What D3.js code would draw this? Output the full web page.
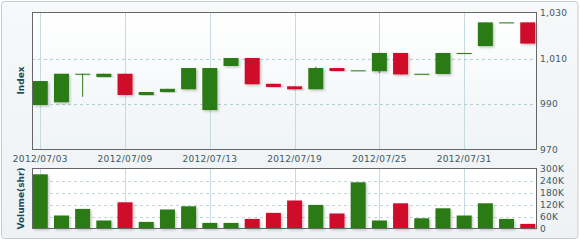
<!DOCTYPE html>
<html>
<head>
<meta charset="utf-8">
<script src="https://cdn.jsdelivr.net/npm/d3@7"></script>
<style>
  body { margin: 0; background: #fff; }
  svg { display: block; font-family: "DejaVu Sans", Verdana, sans-serif; }
</style>
</head>
<body>
<div id="chart"></div>
<script>
const dates = ["2012/07/03","2012/07/04","2012/07/05","2012/07/06","2012/07/09","2012/07/10","2012/07/11","2012/07/12","2012/07/13","2012/07/16","2012/07/17","2012/07/18","2012/07/19","2012/07/20","2012/07/23","2012/07/24","2012/07/25","2012/07/26","2012/07/27","2012/07/30","2012/07/31","2012/08/01","2012/08/02","2012/08/03"];
const open  = [989.7, 990.9, 1003.4, 1002.0, 1003.4, 994.1, 995.4, 996.6, 987.5, 1006.8, 1010.3, 999.0, 997.9, 996.6, 1005.9, 1004.9, 1004.5, 1012.5, 1003.4, 1003.3, 1012.5, 1015.5, 1025.9, 1025.9];
const close = [1000.2, 1003.4, 1003.4, 1003.4, 994.1, 995.4, 996.8, 1005.9, 1005.9, 1010.3, 998.8, 997.6, 996.6, 1005.9, 1004.6, 1004.9, 1012.5, 1003.1, 1003.4, 1012.5, 1012.5, 1025.9, 1025.9, 1016.6];
const high  = [1000.2, 1003.4, 1003.4, 1003.4, 1003.4, 995.4, 996.8, 1005.9, 1005.9, 1010.3, 1010.3, 999.0, 997.9, 1006.5, 1005.9, 1004.9, 1012.5, 1012.5, 1003.4, 1012.5, 1012.5, 1025.9, 1025.9, 1025.9];
const low   = [989.7, 990.9, 993.3, 1002.0, 994.1, 994.1, 995.4, 996.6, 987.5, 1006.8, 998.8, 997.6, 996.6, 996.6, 1004.6, 1004.9, 1003.7, 1003.1, 1003.4, 1003.3, 1012.5, 1015.5, 1025.9, 1016.6];
const volume = [271, 65, 98, 40, 131, 33, 95, 111, 28, 28, 48, 78, 140, 118, 75, 231, 40, 126, 51, 101, 65, 126, 48, 23];
const dateTicks = ["2012/07/03","2012/07/09","2012/07/13","2012/07/19","2012/07/25","2012/07/31"];
const priceTicks = [970, 990, 1010, 1030];
const volTicks = [0, 60, 120, 180, 240, 300];

const W = 580, H = 241;
const left = 32, right = 536;
const top1 = 13, bot1 = 150;
const top2 = 168.5, bot2 = 228.5;
const green = "#2b7a14", red = "#cf0d2a";

const svg = d3.select("#chart").append("svg").attr("width", W).attr("height", H);

const defs = svg.append("defs");
const bg = defs.append("linearGradient").attr("id", "bg").attr("x1", 0).attr("y1", 0).attr("x2", 0).attr("y2", 1);
bg.append("stop").attr("offset", "0%").attr("stop-color", "#f6f8f9");
bg.append("stop").attr("offset", "100%").attr("stop-color", "#eef2f4");
const pg = defs.append("linearGradient").attr("id", "pg").attr("x1", 0).attr("y1", 0).attr("x2", 0).attr("y2", 1);
pg.append("stop").attr("offset", "0%").attr("stop-color", "#ffffff");
pg.append("stop").attr("offset", "100%").attr("stop-color", "#eff4f6");
const sh = defs.append("filter").attr("id", "sh").attr("x", "-20%").attr("y", "-20%").attr("width", "150%").attr("height", "150%");
sh.append("feDropShadow").attr("dx", 1.5).attr("dy", 1.5).attr("stdDeviation", 0.8)
  .attr("flood-color", "#000").attr("flood-opacity", 0.22);

svg.append("rect").attr("x", 1.5).attr("y", 1.5).attr("width", W - 3.5).attr("height", H - 4)
  .attr("rx", 3).attr("fill", "url(#bg)").attr("stroke", "#c4ced2");

const x = d3.scalePoint().domain(dates).range([left, right]).padding(0.39);
const y = d3.scaleLinear().domain([970, 1030]).range([bot1, top1]);
const yv = d3.scaleLinear().domain([0, 300]).range([bot2, top2]);
const bw = 15;

// plot backgrounds
svg.append("rect").attr("x", left).attr("y", top1).attr("width", right - left).attr("height", bot1 - top1).attr("fill", "url(#pg)");
svg.append("rect").attr("x", left).attr("y", top2).attr("width", right - left).attr("height", bot2 - top2).attr("fill", "#fff");

// vertical grid
[[top1, bot1], [top2, bot2]].forEach(([a, b]) => {
  svg.append("g").selectAll("line").data(dateTicks).join("line")
    .attr("x1", d => Math.round(x(d)) + 0.5).attr("x2", d => Math.round(x(d)) + 0.5)
    .attr("y1", a).attr("y2", b).attr("stroke", "#c6dbe0");
});

// dashed horizontal grid
svg.append("g").selectAll("line").data([990, 1010]).join("line")
  .attr("x1", left).attr("x2", right)
  .attr("y1", d => Math.round(y(d)) + 0.5).attr("y2", d => Math.round(y(d)) + 0.5)
  .attr("stroke", "#b7ced6").attr("stroke-dasharray", "3,3");
svg.append("g").selectAll("line").data([60, 120, 180, 240]).join("line")
  .attr("x1", left).attr("x2", right)
  .attr("y1", d => Math.round(yv(d)) + 0.5).attr("y2", d => Math.round(yv(d)) + 0.5)
  .attr("stroke", "#c3d6dc").attr("stroke-dasharray", "3,3");

const col = i => close[i] >= open[i] ? green : red;
const idx = d3.range(dates.length);

// candles
const cg = svg.append("g");
cg.selectAll("line").data(idx).join("line")
  .attr("x1", i => x(dates[i])).attr("x2", i => x(dates[i]))
  .attr("y1", i => y(high[i])).attr("y2", i => y(low[i]))
  .attr("stroke", col).attr("stroke-width", 1);
cg.selectAll("rect").data(idx).join("rect")
  .attr("x", i => x(dates[i]) - bw / 2)
  .attr("y", i => y(Math.max(open[i], close[i])))
  .attr("width", bw)
  .attr("height", i => Math.max(1, Math.abs(y(open[i]) - y(close[i]))))
  .attr("fill", col).attr("filter", "url(#sh)");

// volume bars
svg.append("g").selectAll("rect").data(idx).join("rect")
  .attr("x", i => x(dates[i]) - bw / 2)
  .attr("y", i => yv(volume[i]))
  .attr("width", bw)
  .attr("height", i => bot2 - yv(volume[i]))
  .attr("fill", col).attr("filter", "url(#sh)");

// frames
svg.append("rect").attr("x", left + 0.5).attr("y", top1 - 0.5).attr("width", right - left).attr("height", bot1 - top1)
  .attr("fill", "none").attr("stroke", "#666");
svg.append("rect").attr("x", left + 0.5).attr("y", top2).attr("width", right - left).attr("height", bot2 - top2)
  .attr("fill", "none").attr("stroke", "#666");

// tick labels
const tc = "#3b5863";
svg.append("g").selectAll("text").data(dateTicks).join("text")
  .attr("x", d => x(d)).attr("y", 162)
  .attr("text-anchor", "middle").attr("font-size", 9).attr("fill", tc)
  .attr("letter-spacing", 0.3).text(d => d);
svg.append("g").selectAll("text").data(priceTicks).join("text")
  .attr("x", 540).attr("y", d => y(d)).attr("dy", "0.35em")
  .attr("font-size", 9).attr("fill", tc).attr("letter-spacing", 0.3)
  .text(d3.format(","));
svg.append("g").selectAll("text").data(volTicks).join("text")
  .attr("x", 540).attr("y", d => yv(d)).attr("dy", "0.35em")
  .attr("font-size", 9).attr("fill", tc).attr("letter-spacing", 0.3)
  .text(d => d === 0 ? "0" : d + "K");

// axis titles
svg.append("text").attr("transform", `translate(24,${(top1 + bot1) / 2 - 1}) rotate(-90)`)
  .attr("text-anchor", "middle").attr("font-size", 9).attr("font-weight", "bold")
  .attr("fill", "#1d4c5c").text("Index");
svg.append("text").attr("transform", `translate(24,${(top2 + bot2) / 2}) rotate(-90)`)
  .attr("text-anchor", "middle").attr("font-size", 9).attr("font-weight", "bold")
  .attr("fill", "#1d4c5c").text("Volume(shr)");
</script>
</body>
</html>
